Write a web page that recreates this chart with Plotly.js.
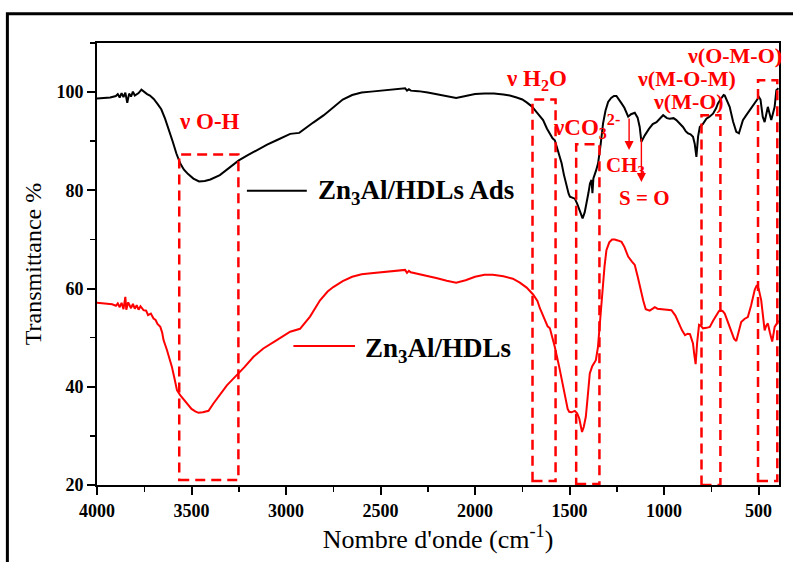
<!DOCTYPE html>
<html>
<head>
<meta charset="utf-8">
<script src="https://cdn.plot.ly/plotly-3.0.1.min.js"></script>
<style>html,body{margin:0;padding:0;background:#fff;}#chart{width:793px;height:562px;}</style>
</head>
<body>
<div id="chart"></div>
<script>
// ---- Data ----
const adsWavenumber = [4000,3960,3930,3900,3890,3880,3870,3860,3850,3840,3830,3820,3810,3800,3780,3765,3750,3735,3720,3700,3680,3660,3640,3620,3600,3580,3560,3540,3518,3490,3460,3430,3400,3350,3300,3250,3200,3150,3100,3050,3000,2978,2930,2900,2856,2800,2750,2700,2650,2600,2550,2500,2450,2400,2370,2360,2350,2340,2300,2250,2200,2150,2100,2050,2000,1950,1900,1850,1816,1780,1750,1727,1700,1680,1660,1640,1620,1600,1590,1578,1560,1542,1530,1516,1505,1498,1485,1472,1460,1450,1440,1431,1420,1410,1400,1392,1384,1379,1374,1360,1349,1335,1323,1310,1296,1280,1265,1252,1240,1225,1210,1190,1175,1155,1140,1129,1120,1110,1102,1080,1060,1040,1020,1005,985,970,950,935,915,900,885,873,860,847,838,829,820,811,795,776,760,741,725,715,700,685,679,665,653,635,618,604,590,583,565,547,530,512,498,490,486,478,468,460,451,443,433,425,415,406,395];
const adsTransmittance = [98.7,98.8,98.9,99.2,99.6,98.9,99.8,99.0,99.9,97.8,99.7,99.1,100.1,99.3,99.8,100.5,100.0,99.6,99.3,98.6,97.6,96.5,94.6,92.5,90.0,87.5,85.5,84.2,83.3,82.4,81.8,81.9,82.2,83.1,84.6,86.1,87.2,88.3,89.3,90.2,91.1,91.5,91.7,92.6,93.8,95.3,97.0,98.5,99.4,99.9,100.1,100.3,100.6,100.8,100.8,100.3,100.6,100.3,100.2,99.9,99.5,99.1,98.8,99.2,99.6,99.7,99.7,99.5,99.3,98.9,98.5,97.9,97.1,96.2,95.2,94.3,92.6,91.1,90.6,90.2,88.0,85.5,83.2,80.7,79.3,78.7,78.5,78.3,77.3,76.2,75.3,74.3,75.5,77.3,79.5,81.4,82.1,79.4,82.4,84.0,85.5,89.5,93.6,96.2,98.0,98.8,99.2,99.2,98.6,97.7,96.8,95.0,95.5,95.8,94.8,92.9,89.9,90.8,91.2,92.5,93.5,93.9,94.8,95.3,94.7,94.6,94.7,94.3,93.5,92.9,92.0,91.6,91.4,90.9,89.5,86.8,91.0,92.9,93.5,94.6,95.0,95.6,96.7,97.7,98.6,99.4,99.3,98.0,97.0,94.0,91.9,91.6,93.4,94.3,95.3,96.3,97.3,98.3,99.0,98.5,97.0,95.0,93.9,95.5,97.0,95.8,94.3,95.5,97.0,100.4,100.8];

const hdlWavenumber = [4000,3960,3920,3900,3890,3880,3870,3860,3850,3845,3835,3820,3810,3800,3790,3780,3770,3754,3740,3730,3715,3701,3690,3680,3665,3655,3648,3630,3615,3604,3590,3577,3560,3540,3524,3500,3480,3463,3440,3410,3384,3350,3313,3280,3252,3220,3172,3120,3049,2978,2926,2900,2873,2820,2780,2750,2700,2650,2600,2550,2500,2450,2400,2370,2360,2350,2340,2300,2250,2200,2150,2100,2050,2000,1950,1906,1850,1800,1763,1727,1693,1670,1657,1640,1631,1616,1604,1590,1578,1555,1540,1525,1510,1502,1490,1472,1460,1449,1440,1434,1425,1414,1404,1393,1380,1361,1350,1344,1335,1326,1315,1305,1290,1275,1261,1245,1225,1210,1190,1170,1155,1140,1129,1110,1097,1076,1060,1049,1035,1005,985,961,940,925,905,889,875,863,847,840,833,825,815,805,794,775,758,740,723,710,702,690,679,660,644,630,618,605,592,575,557,540,530,520,509,500,486,475,468,460,451,440,428,420,415,403,395];
const hdlTransmittance = [57.1,56.9,56.8,56.5,57.0,56.2,57.1,55.8,58.3,55.7,57.2,56.0,56.9,55.9,56.6,55.7,56.4,55.6,55.5,54.6,54.9,53.9,53.6,52.8,52.2,51.0,49.5,47.5,45.8,44.1,41.7,39.3,38.3,37.3,36.6,35.5,35.0,34.7,34.8,35.1,36.6,38.5,40.3,41.6,42.7,44.0,46.1,47.8,49.5,51.2,51.8,53.0,54.3,57.6,59.4,60.3,61.5,62.4,62.9,63.1,63.3,63.5,63.6,63.8,63.2,63.6,63.3,63.0,62.5,62.1,61.6,61.2,61.7,62.4,62.8,62.8,62.5,62.0,61.2,60.2,58.8,57.5,56.0,54.5,53.4,52.3,51.9,50.0,48.1,44.1,41.0,38.0,35.5,34.9,34.8,35.1,34.6,33.6,31.8,30.8,31.8,33.9,38.0,42.7,44.2,45.4,48.0,50.9,55.5,60.4,64.5,67.8,69.4,70.0,70.0,69.8,69.5,68.5,66.5,65.5,64.8,62.5,60.4,57.5,55.8,55.5,55.9,56.2,55.9,55.8,55.6,55.6,54.5,53.2,51.5,50.5,50.8,50.7,48.8,46.5,44.6,49.0,52.6,52.4,51.9,52.0,52.2,53.5,54.6,55.4,55.6,55.4,54.9,52.8,51.2,49.8,49.3,51.0,53.2,53.8,54.2,56.5,58.3,59.8,60.7,60.0,57.6,54.0,51.5,52.4,52.9,51.0,49.2,51.0,52.2,52.9,53.5];

const xTicks = [4000,3500,3000,2500,2000,1500,1000,500];
const xTickLabels = ['4000','3500','3000','2500','2000','1500','1000','500'];
const yTicks = [20,40,60,80,100];
const yTickLabels = ['20','40','60','80','100'];

const seriesNames = ['Zn<sub>3</sub>Al/HDLs Ads','Zn<sub>3</sub>Al/HDLs'];
const xTitle = "Nombre d'onde (cm<sup>-1</sup>)";
const yTitle = 'Transmittance %';

// ---- Styling ----
const SERIF = 'Liberation Serif, Times New Roman, Times, serif';
const RED = '#ff0000';

const traces = [
  {x: adsWavenumber, y: adsTransmittance, type:'scatter', mode:'lines', name: seriesNames[0],
   line:{color:'#000000', width:2}, hoverinfo:'skip'},
  {x: hdlWavenumber, y: hdlTransmittance, type:'scatter', mode:'lines', name: seriesNames[1],
   line:{color:RED, width:2}, hoverinfo:'skip'}
];

const dash = {color:RED, width:2.5, dash:'10px,6px'};
function box(x0,x1,y0,y1){ return {type:'rect', xref:'x', yref:'y', x0:x0, x1:x1, y0:y0, y1:y1, line:dash, fillcolor:'rgba(0,0,0,0)', layer:'above'}; }

const shapes = [
  // outer frame
  {type:'rect', xref:'paper', yref:'paper', x0:-0.1314, x1:1.04, y0:-0.22, y1:1.066, line:{color:'#000', width:3}, layer:'above'},
  box(3565,3252,21.0,87.3),
  box(1696,1574,20.8,98.5),
  box(1465,1342,20.2,89.4),
  box(802,702,20.0,95.3),
  box(503,401,20.8,102.4),
  // legend sample lines
  {type:'line', xref:'x', yref:'y', x0:3207, x1:2890, y0:79.9, y1:79.9, line:{color:'#000', width:2}},
  {type:'line', xref:'x', yref:'y', x0:2961, x1:2635, y0:48.3, y1:48.3, line:{color:RED, width:2}}
];

const redFont = (s)=>({family:SERIF, size:s, color:RED, weight:'bold'});
function label(text,x,y,size){ return {text:text, x:x, y:y, xref:'x', yref:'y', xanchor:'left', yanchor:'middle', showarrow:false, borderpad:0, font:redFont(size)}; }

const annotations = [
  {text:seriesNames[0], x:2841, y:79.6, xref:'x', yref:'y', xanchor:'left', yanchor:'middle', showarrow:false, font:{family:SERIF, size:27, color:'#000', weight:'bold'}},
  {text:seriesNames[1], x:2593, y:47.5, xref:'x', yref:'y', xanchor:'left', yanchor:'middle', showarrow:false, font:{family:SERIF, size:27, color:'#000', weight:'bold'}},
  {text:'ν O-H', x:3404, y:94.0, xref:'x', yref:'y', xanchor:'center', yanchor:'middle', showarrow:false, font:redFont(23)},
  label('ν H<sub>2</sub>O', 1842, 102.4, 23),
  label('νCO<sub>3</sub><sup>2-</sup>', 1595, 93.0, 23),
  label('CH<sub>3</sub>', 1314, 85.0, 21),
  label('S = O', 1245, 78.5, 21),
  label('ν(M-O-M)', 1150, 102.8, 22),
  label('ν(M-O)', 1062, 98.1, 22),
  label('ν(O-M-O)', 886, 107.4, 22),
  // arrows
  {text:'', x:1185, y:88.2, xref:'x', yref:'y', showarrow:true, ax:0, ay:-33, arrowhead:2, arrowsize:1.3, arrowwidth:1.4, arrowcolor:RED, standoff:0},
  {text:'', x:1120, y:81.7, xref:'x', yref:'y', showarrow:true, ax:0, ay:-45, arrowhead:2, arrowsize:1.3, arrowwidth:1.4, arrowcolor:RED, standoff:0}
];

const tickFont = {family:SERIF, size:18, color:'#000', weight:'bold'};
const layout = {
  width:793, height:562,
  margin:{l:97, r:14, t:43, b:77},
  paper_bgcolor:'#fff', plot_bgcolor:'#fff',
  showlegend:false,
  xaxis:{range:[4000,392], autorange:false, tickmode:'array', tickvals:xTicks, ticktext:xTickLabels,
    showline:true, linecolor:'#000', linewidth:2, mirror:true, ticks:'outside', ticklen:8, tickwidth:2, tickcolor:'#000',
    minor:{tickmode:'linear', tick0:0, dtick:250, ticks:'outside', ticklen:5, tickwidth:1.5, tickcolor:'#000', showgrid:false},
    showgrid:false, zeroline:false, tickfont:tickFont,
    title:{text:xTitle, font:{family:SERIF, size:26, color:'#000'}, standoff:8}},
  yaxis:{range:[20,110], autorange:false, tickmode:'array', tickvals:yTicks, ticktext:yTickLabels,
    showline:true, linecolor:'#000', linewidth:2, mirror:true, ticks:'outside', ticklen:8, tickwidth:2, tickcolor:'#000',
    minor:{tickmode:'linear', tick0:0, dtick:10, ticks:'outside', ticklen:5, tickwidth:1.5, tickcolor:'#000', showgrid:false},
    showgrid:false, zeroline:false, tickfont:tickFont,
    title:{text:yTitle, font:{family:SERIF, size:24, color:'#000'}, standoff:8}},
  xaxis2:{overlaying:'x', anchor:'y', side:'top', range:[4000,392], autorange:false, tickmode:'array', tickvals:xTicks,
    showticklabels:false, showline:false, ticks:'inside', ticklen:6, tickwidth:1.5, tickcolor:'#000',
    minor:{tickmode:'linear', tick0:0, dtick:250, ticks:'inside', ticklen:4, tickwidth:1.2, tickcolor:'#000'},
    showgrid:false, zeroline:false},
  yaxis2:{overlaying:'y', anchor:'x', side:'right', range:[20,110], autorange:false, tickmode:'array', tickvals:yTicks,
    showticklabels:false, showline:false, ticks:'inside', ticklen:6, tickwidth:1.5, tickcolor:'#000',
    minor:{tickmode:'linear', tick0:0, dtick:10, ticks:'inside', ticklen:4, tickwidth:1.2, tickcolor:'#000'},
    showgrid:false, zeroline:false},
  shapes:shapes,
  annotations:annotations
};

Plotly.newPlot('chart', traces, layout, {staticPlot:true, displayModeBar:false});
</script>
</body>
</html>
